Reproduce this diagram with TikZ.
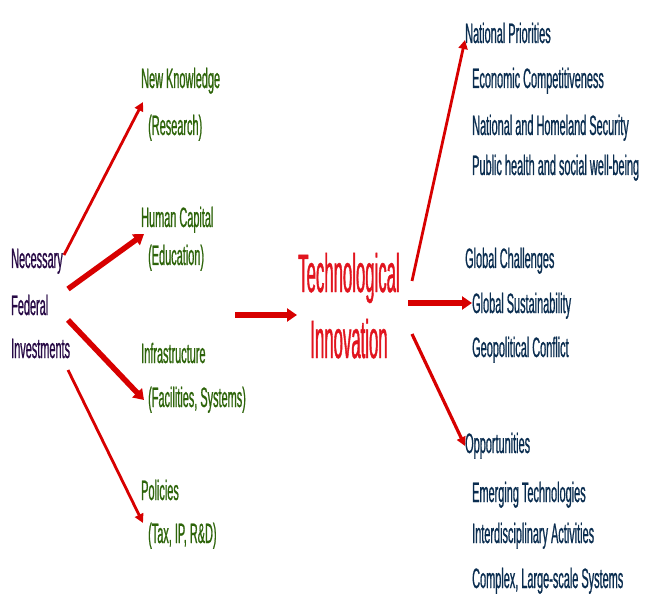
\documentclass[tikz,border=0pt]{standalone}
\usepackage{fontspec}
\usetikzlibrary{arrows.meta}
\newfontfamily\condfont[FakeStretch=0.39,FakeBold=0.7]{Liberation Sans}
\newfontfamily\bigcondfont[FakeStretch=0.31,FakeBold=0.7]{Liberation Sans}
\definecolor{arrred}{RGB}{215,0,0}
\definecolor{titlered}{RGB}{225,20,30}
\definecolor{leafgreen}{RGB}{45,100,10}
\definecolor{darkpurple}{RGB}{40,10,70}
\definecolor{navy}{RGB}{10,45,80}
\begin{document}
\begin{tikzpicture}[x=1pt,y=-1pt,
  txt/.style={anchor=base west, inner sep=0pt, font=\condfont\fontsize{28}{32}\selectfont},
  grn/.style={txt, text=leafgreen},
  src/.style={txt, text=darkpurple},
  rgt/.style={txt, text=navy},
  ttl/.style={anchor=base, inner sep=0pt, text=titlered, font=\bigcondfont\fontsize{54}{60}\selectfont},
  arr/.style={draw=arrred, line width=2.8pt, -{Triangle[length=9pt,width=9pt]}},
  thickarr/.style={draw=arrred, line width=5.5pt, -{Triangle[length=10pt,width=13pt]}}]
\useasboundingbox (0,0) rectangle (646,599);

% left source
\node[src] (nec) at (11,268) {Necessary};
\node[src] (fed) at (11,315) {Federal};
\node[src] (inv) at (11,358) {Investments};

% left targets
\node[grn] (nk) at (141,88) {New Knowledge};
\node[grn] (res) at (148,135) {(Research)};
\node[grn] (hc) at (141,227) {Human Capital};
\node[grn] (edu) at (148,265) {(Education)};
\node[grn] (inf) at (141,363) {Infrastructure};
\node[grn] (fac) at (148,407) {(Facilities, Systems)};
\node[grn] (pol) at (141,500) {Policies};
\node[grn] (tax) at (148,543) {(Tax, IP, R\&D)};

% center
\node[ttl] (tech) at (349,292) {Technological};
\node[ttl] (innov) at (349,358) {Innovation};

% right
\node[rgt] (np) at (465,43) {National Priorities};
\node[rgt] (ec) at (472,88) {Economic Competitiveness};
\node[rgt] (nhs) at (472,135) {National and Homeland Security};
\node[rgt] (ph) at (472,175) {Public health and social well-being};
\node[rgt] (gc) at (465,268) {Global Challenges};
\node[rgt] (gs) at (472,313) {Global Sustainability};
\node[rgt] (gp) at (472,357) {Geopolitical Conflict};
\node[rgt] (op) at (465,453) {Opportunities};
\node[rgt] (et) at (472,502) {Emerging Technologies};
\node[rgt] (ia) at (472,543) {Interdisciplinary Activities};
\node[rgt] (cl) at (472,588) {Complex, Large-scale Systems};

% arrow end points
\coordinate (s1) at (64,255);
\coordinate (e1) at (143,102);
\coordinate (s2) at (68,289);
\coordinate (e2) at (144,234);
\coordinate (s3) at (68,320);
\coordinate (e3) at (144,400);
\coordinate (s4) at (68,370);
\coordinate (e4) at (143,523);
\coordinate (s5) at (235,315);
\coordinate (e5) at (297,315);
\coordinate (s6) at (412,281);
\coordinate (e6) at (465,40);
\coordinate (s7) at (408,303);
\coordinate (e7) at (472,303);
\coordinate (s8) at (412,334);
\coordinate (e8) at (465,446);

\draw[arr] (s1) -- (e1);
\draw[thickarr] (s2) -- (e2);
\draw[thickarr] (s3) -- (e3);
\draw[arr] (s4) -- (e4);
\draw[thickarr] (s5) -- (e5);
\draw[arr] (s6) -- (e6);
\draw[thickarr] (s7) -- (e7);
\draw[arr, line width=3.2pt] (s8) -- (e8);
\end{tikzpicture}
\end{document}
